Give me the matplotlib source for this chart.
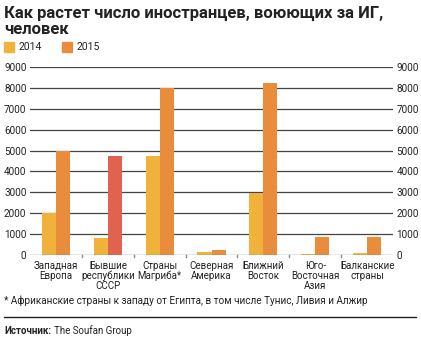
import numpy as np
import matplotlib.pyplot as plt
from matplotlib.patches import Rectangle

plt.rcParams['font.family'] = ['Roboto', 'DejaVu Sans']

# Данные: иностранные боевики ИГ по регионам
regions = ['Западная\nЕвропа', 'Бывшие\nреспублики\nСССР', 'Страны\nМагриба*',
           'Северная\nАмерика', 'Ближний\nВосток', 'Юго-\nВосточная\nАзия',
           'Балканские\nстраны']
y2014 = [2000, 840, 4750, 140, 2950, 70, 120]
y2015 = [5000, 4750, 8000, 260, 8240, 890, 890]
yticks = [0, 1000, 2000, 3000, 4000, 5000, 6000, 7000, 8000, 9000]

c2014 = '#F0B23B'
c2015 = '#E98C3C'
cred = '#E0624F'
ink = '#222222'

W, H = 421, 339
fig = plt.figure(figsize=(W / 100, H / 100), dpi=100)
ax = fig.add_axes([30 / W, 1 - 255.3 / H, (393 - 30) / W, (255.3 - 66.7) / H])

x = np.arange(len(regions))
bw = 0.27
cols2015 = [c2015] * len(regions)
cols2015[1] = cred
ax.bar(x - bw / 2, y2014, bw, color=c2014, zorder=3)
ax.bar(x + bw / 2, y2015, bw, color=cols2015, zorder=3)

ax.set_xlim(-0.5, len(regions) - 0.5)
ax.set_ylim(0, 9000)
for v in yticks[1:]:
    ax.axhline(v, color='#444444', lw=0.9, zorder=1)
ax.axhline(0, color='#8a8a8a', lw=1.0, zorder=4)
# засечки между группами
for b in np.arange(0.5, len(regions) - 0.5, 1):
    ax.plot([b, b], [0, -60], color='#8a8a8a', lw=1.0, clip_on=False, zorder=4)

for s in ax.spines.values():
    s.set_visible(False)
ax.set_yticks(yticks)
ax.set_yticklabels([str(v) for v in yticks], fontsize=7.2, color=ink)
ax.tick_params(axis='y', length=0, pad=2.5, labelright=True)
ax.set_xticks(x)
ax.set_xticklabels(regions, fontsize=7.0, color=ink, linespacing=1.0)
ax.tick_params(axis='x', length=0, pad=4)

# заголовок и легенда
fig.text(4 / W, 1 - 18 / H, 'Как растет число иностранцев, воюющих за ИГ,',
         fontsize=12, fontweight='bold', color=ink, va='baseline', ha='left')
fig.text(4 / W, 1 - 34 / H, 'человек',
         fontsize=12, fontweight='bold', color=ink, va='baseline', ha='left')
fig.patches.append(Rectangle((4 / W, 1 - 52 / H), 10 / W, 10 / H, color=c2014,
                             transform=fig.transFigure, figure=fig))
fig.text(19 / W, 1 - 47.5 / H, '2014', fontsize=7.5, color=ink, va='center')
fig.patches.append(Rectangle((62 / W, 1 - 52 / H), 10 / W, 10 / H, color=c2015,
                             transform=fig.transFigure, figure=fig))
fig.text(77 / W, 1 - 47.5 / H, '2015', fontsize=7.5, color=ink, va='center')

# сноска и источник
fig.text(4 / W, 1 - 301 / H,
         '* Африканские страны к западу от Египта, в том числе Тунис, Ливия и Алжир',
         fontsize=7.2, color=ink, va='center')
fig.add_artist(plt.Line2D([4 / W, 416 / W], [1 - 316.5 / H, 1 - 316.5 / H],
                          color=ink, lw=1.0))
src = fig.text(4 / W, 1 - 331 / H, 'Источник:', fontsize=7, fontweight='bold',
               color=ink, va='center')
fig.canvas.draw()
bb = src.get_window_extent(fig.canvas.get_renderer())
fig.text(bb.x1 / W + 2.5 / W, 1 - 331 / H, 'The Soufan Group', fontsize=7,
         color=ink, va='center')

fig.savefig('out.png', dpi=100, facecolor='white')
